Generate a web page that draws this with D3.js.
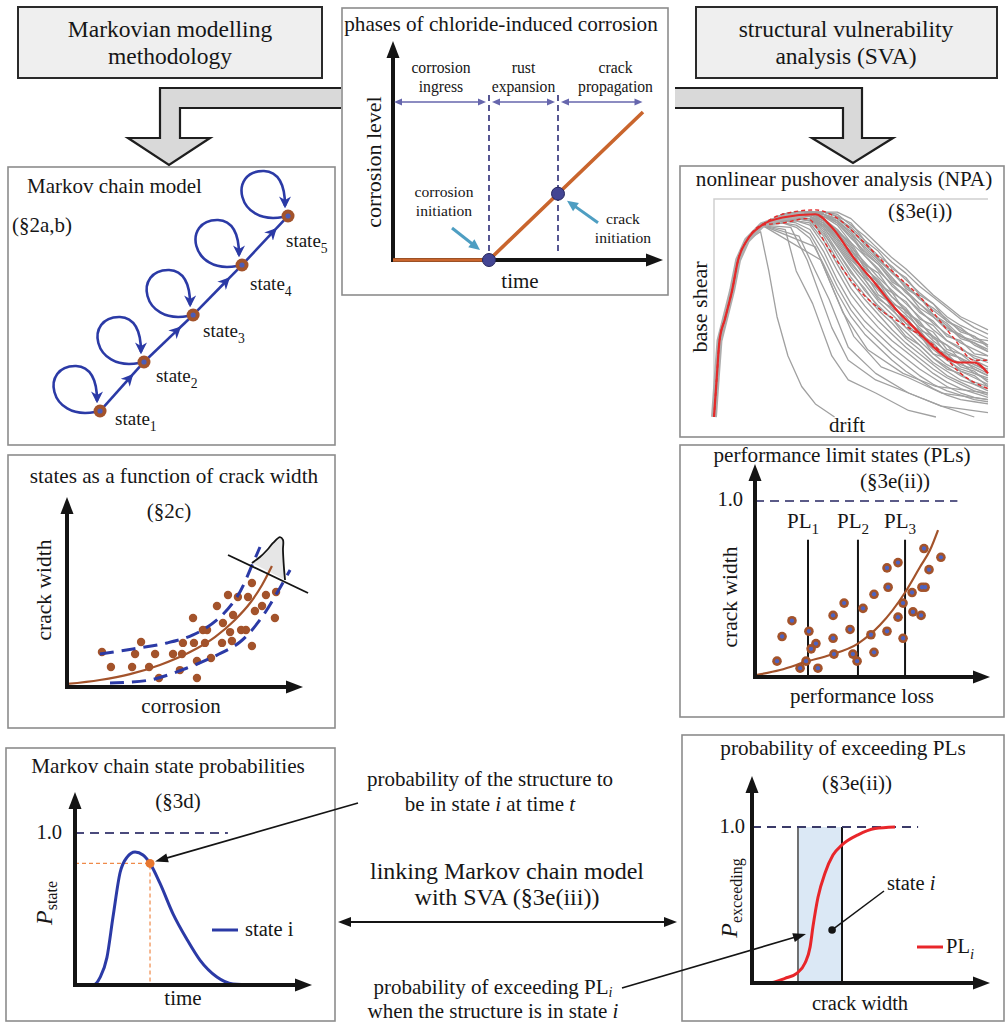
<!DOCTYPE html>
<html><head><meta charset="utf-8">
<script src="https://cdn.jsdelivr.net/npm/d3@7"></script>
<style>
body{margin:0;background:#fff}
svg{display:block}
</style>
</head><body>
<svg id="fig" width="1006" height="1023"></svg>
<script>
// ---------- data ----------
// Markov chain: five states on a rising diagonal (plot units 0-100)
const chainStates = ["1", "2", "3", "4", "5"];
const chainX = [15.4, 32.3, 51.2, 70, 87.7];
const chainY = [7.6, 27.2, 46, 66, 85.6];

// phases of chloride-induced corrosion (time / corrosion level, 0-100)
const phaseLabels = [["corrosion", "ingress"], ["rust", "expansion"], ["crack", "propagation"]];
const phaseBounds = [0, 38.4, 66, 101];
const corrTime = [0, 38.4, 100];
const corrLevel = [0, 0, 100];
const corrInitTime = 38.4;
const crackInitTime = 66;

// crack width vs corrosion
const crackDotX = [15.2, 19.1, 29.6, 28.3, 32.2, 35.7, 38.3, 40.0, 46.1, 49.1, 50.4, 50.0, 54.8, 55.2, 56.5, 56.5, 59.1, 60.0, 60.9, 62.6, 65.2, 67.4, 67.8, 70.0, 70.9, 71.7, 72.2, 74.3, 75.7, 77.8, 78.7, 80.4, 80.4, 81.7, 84.8, 86.5, 90.4, 90.9];
const crackDotY = [18.4, 10.5, 17.4, 10.5, 23.7, 10.5, 17.4, 4.7, 17.4, 8.9, 23.2, 17.4, 36.3, 23.2, 13.7, 4.7, 30.0, 23.2, 30.0, 15.3, 42.6, 23.2, 33.7, 48.4, 28.9, 24.2, 37.9, 47.4, 30.0, 30.0, 47.4, 21.6, 54.7, 40.0, 42.6, 48.4, 36.3, 50.0];
const crackTrendX = [0, 14.3, 27.4, 40.4, 53.5, 64.3, 73, 79.6, 84.8, 89.1];
const crackTrendY = [1.6, 3.7, 6.8, 11.6, 18.4, 26.3, 35.3, 44.2, 53.7, 63.7];
const crackUpperX = [14.3, 28.7, 43.5, 54.8, 65.2, 73.9, 80.9, 83.9];
const crackUpperY = [17.4, 20, 23.2, 27.4, 35.3, 47.4, 65.3, 73.7];
const crackLowerX = [18.7, 36.1, 52.2, 65.2, 75.2, 83.9, 91.3, 97];
const crackLowerY = [2.1, 3.7, 10, 16.8, 23.7, 35.3, 49.5, 61.6];
const bellX = [80.4, 83.9, 87, 89.6, 92.6, 93.9, 93.9, 94.3, 94.8];
const bellY = [65.3, 68.4, 72.1, 75.8, 78.9, 77.4, 72.1, 63.2, 56.3];
const sectionX = [70, 104.8];
const sectionY = [69.5, 49.5];

// nonlinear pushover analysis: drift / base shear (normalised)
const npaRiseDrift = [0, 0.01, 0.02, 0.04, 0.066, 0.088, 0.12, 0.175];
const npaRiseShear = [0, 0.18, 0.35, 0.45, 0.58, 0.72, 0.81, 0.88];
const npaGridDrift = [0.25, 0.30, 0.35, 0.40, 0.45, 0.50, 0.55, 0.60, 0.65, 0.70, 0.75, 0.80, 0.85, 0.90, 0.95, 1.00];
const npaSamples = [
  [93, 94, 94, 94, 94, 91, 85, 79, 73, 68, 62, 56, 51, 46, 43, 40],
  [93, 94, 94, 94, 93, 88, 83, 77, 71, 66, 60, 55, 50, 45, 41, 38],
  [93, 94, 94, 94, 92, 86, 80, 74, 69, 63, 57, 52, 46, 42, 39, 36],
  [92, 93, 94, 93, 90, 84, 78, 72, 66, 60, 55, 49, 44, 40, 37, 33],
  [92, 93, 94, 93, 89, 82, 76, 70, 63, 58, 52, 46, 41, 37, 34, 31],
  [92, 93, 93, 92, 88, 80, 74, 67, 61, 55, 49, 43, 38, 34, 31, 28],
  [92, 93, 93, 91, 86, 78, 71, 64, 58, 52, 46, 40, 35, 31, 28, 26],
  [91, 93, 93, 91, 85, 77, 69, 62, 55, 49, 43, 37, 33, 29, 26, 23],
  [91, 92, 93, 90, 84, 75, 67, 60, 53, 47, 41, 35, 30, 27, 24, 21],
  [91, 92, 92, 89, 82, 73, 65, 58, 51, 45, 39, 33, 28, 24, 22, 19],
  [91, 92, 92, 88, 80, 71, 63, 55, 49, 43, 37, 31, 26, 22, 20, 17],
  [91, 92, 92, 87, 78, 69, 61, 53, 47, 41, 35, 29, 24, 21, 18, 15],
  [91, 91, 91, 86, 76, 67, 58, 51, 45, 39, 33, 27, 23, 19, 16, 14],
  [90, 91, 91, 85, 74, 64, 56, 49, 43, 36, 31, 25, 21, 17, 15, 12],
  [90, 91, 90, 83, 72, 62, 54, 47, 40, 34, 29, 24, 19, 16, 13, 11],
  [90, 90, 89, 81, 70, 59, 51, 44, 38, 32, 27, 22, 18, 15, 12, 10],
  [90, 90, 88, 79, 67, 56, 48, 41, 35, 30, 25, 20, 16, 13, 11, 9],
  [90, 89, 86, 76, 63, 52, 44, 38, 32, 27, 22, 18, 14, 11, 9, 8],
  [89, 88, 84, 73, 60, 49, 41, 35, 29, 24, 19, 15, 12, 10, 8, 7],
  [89, 87, 82, 70, 57, 46, 38, 32, 26, 21, 17, 13, 10, 8, 7, 6],
  [93, 94, 94, 92, 90, 84, 75, 70, 62, 58, 50, 46, 40, 38, 33, 30],
  [92, 93, 93, 90, 85, 80, 70, 66, 57, 53, 45, 42, 35, 32, 27, 25],
  [91, 92, 92, 89, 83, 76, 70, 61, 57, 48, 44, 36, 33, 26, 23, 20],
  [91, 92, 91, 88, 82, 74, 64, 59, 50, 46, 38, 34, 27, 25, 20, 18],
  [90, 91, 91, 87, 79, 70, 63, 54, 50, 41, 38, 29, 27, 21, 19, 14],
  [92, 93, 94, 94, 92, 89, 81, 76, 68, 64, 56, 52, 44, 41, 36, 35],
  [90, 91, 90, 84, 76, 66, 59, 50, 45, 37, 33, 27, 22, 20, 15, 13],
  [93, 94, 94, 93, 91, 86, 79, 73, 66, 61, 54, 50, 45, 39, 37, 32],
  [92, 93, 93, 92, 89, 83, 74, 68, 60, 55, 48, 44, 37, 35, 29, 28],
  [91, 92, 92, 90, 86, 79, 68, 63, 55, 50, 42, 39, 31, 29, 24, 22],
  [92, 93, 93, 93, 90, 85, 77, 71, 64, 57, 52, 47, 42, 36, 34, 30],
  [91, 92, 92, 89, 84, 77, 66, 62, 52, 49, 40, 37, 29, 27, 22, 19],
  [92, 93, 94, 93, 91, 87, 81, 72, 67, 59, 55, 47, 43, 37, 35, 33],
  [90, 91, 91, 88, 81, 72, 66, 56, 52, 43, 40, 32, 29, 23, 21, 16]
];
const npaEarly = [
  [[0.17, 0.85], [0.20, 0.67], [0.23, 0.46], [0.27, 0.28], [0.32, 0.14], [0.37, 0.06], [0.44, 0]],
  [[0.26, 0.86], [0.30, 0.67], [0.36, 0.52], [0.43, 0.28], [0.49, 0.17], [0.59, 0.11], [0.71, 0.03], [0.81, 0]],
  [[0.28, 0.87], [0.34, 0.72], [0.43, 0.41], [0.49, 0.26], [0.59, 0.17], [0.71, 0.11], [0.83, 0.05], [1.0, 0.02]],
  [[0.37, 0.78], [0.44, 0.57], [0.51, 0.37], [0.61, 0.23], [0.71, 0.18], [0.83, 0.11], [1.0, 0.08]],
  [[0.39, 0.72], [0.47, 0.48], [0.56, 0.31], [0.69, 0.20], [0.81, 0.14], [1.0, 0.11]],
  [[0.31, 0.83], [0.37, 0.67], [0.42, 0.54], [0.49, 0.32], [0.59, 0.20], [0.71, 0.11], [0.83, 0.05], [0.95, 0]]
];
const npaMedian = [[0.25, 0.915], [0.37, 0.93], [0.43, 0.87], [0.51, 0.73], [0.59, 0.61], [0.66, 0.50], [0.73, 0.41], [0.83, 0.29], [0.89, 0.25], [0.95, 0.25], [1.0, 0.20]];
const npaUpper = [[0.25, 0.93], [0.37, 0.95], [0.44, 0.92], [0.54, 0.81], [0.65, 0.67], [0.76, 0.54], [0.87, 0.37], [0.95, 0.26], [1.0, 0.26]];
const npaLower = [[0.25, 0.89], [0.34, 0.91], [0.42, 0.77], [0.51, 0.61], [0.61, 0.49], [0.71, 0.41], [0.81, 0.32], [0.90, 0.20], [1.0, 0.13]];

// performance limit states: performance loss / crack width
const plNames = ["1", "2", "3"];
const plLoss = [24.1, 46.8, 68.2];
const plTop = 0.78;
const plDotX = [10.0, 12.3, 16.8, 20.5, 23.2, 24.5, 25.5, 27.7, 28.6, 35.5, 35.5, 35.9, 40.5, 43.2, 44.5, 46.4, 49.1, 52.7, 54.1, 54.1, 60.0, 60.5, 60.0, 65.0, 65.0, 67.3, 67.3, 71.4, 71.8, 75.5, 75.9, 77.3, 76.8, 79.1, 84.5];
const plDotY = [0.09, 0.23, 0.32, 0.05, 0.09, 0.26, 0.16, 0.19, 0.05, 0.35, 0.22, 0.13, 0.42, 0.27, 0.13, 0.09, 0.39, 0.24, 0.47, 0.14, 0.62, 0.51, 0.26, 0.65, 0.34, 0.42, 0.22, 0.48, 0.37, 0.35, 0.51, 0.51, 0.73, 0.61, 0.68];
const plTrendX = [0, 11.4, 24.1, 34.1, 46.8, 56.8, 68.2, 75, 79.5, 83.2];
const plTrendY = [0.01, 0.04, 0.09, 0.125, 0.19, 0.295, 0.48, 0.625, 0.72, 0.835];
const plOneEnd = 92;

// Markov chain state probability over time
const probTime = [0, 8.2, 11.4, 14.5, 17.3, 20.5, 23.6, 27.3, 30.9, 34.1, 38.6, 44.5, 50.9, 56.8, 64.5, 71.8, 80.9];
const probState = [0, 0, 0.05, 0.18, 0.45, 0.74, 0.84, 0.875, 0.855, 0.80, 0.67, 0.47, 0.30, 0.164, 0.053, 0.007, 0];
const probMarkIndex = 9;
const probOneEnd = 69.5;

// probability of exceeding PL_i vs crack width
const exceedWidth = [0, 7.3, 15, 20.5, 24.1, 26.4, 27.7, 30, 33.2, 36.8, 40.9, 48.2, 55.9, 65];
const exceedProb = [0, 0, 0.03, 0.064, 0.128, 0.23, 0.36, 0.55, 0.705, 0.82, 0.885, 0.95, 0.99, 1.0];
const stateBand = [20.9, 40.9];
const stateMark = [36.4, 0.34];
const exceedOneEnd = 75.5;

// ---------- helpers ----------
const FONT = "Liberation Serif";
const svg = d3.select("#fig");
const defs = svg.append("defs");
const chainBlue = "#2b3aa6";
const brown = "#a3532b";
const ink = "#141414";

function makeMarker(id, color, size, notch) {
  defs.append("marker").attr("id", id)
    .attr("viewBox", "0 0 10 10").attr("refX", 8).attr("refY", 5)
    .attr("markerWidth", size).attr("markerHeight", size)
    .attr("markerUnits", "userSpaceOnUse").attr("orient", "auto")
    .append("path").attr("d", notch ? "M0,0 L10,5 L0,10 L3,5 Z" : "M0,0 L10,5 L0,10 Z").attr("fill", color);
}
makeMarker("chainHead", chainBlue, 12, true);

function head(g, x, y, ang, len, wid, color) {
  const c = Math.cos(ang), s = Math.sin(ang);
  const bx = x - len * c, by = y - len * s;
  g.append("path")
    .attr("d", `M${x},${y} L${bx + wid / 2 * s},${by - wid / 2 * c} L${bx - wid / 2 * s},${by + wid / 2 * c} Z`)
    .attr("fill", color);
}
function arrow(g, x1, y1, x2, y2, color, w, len, wid, both) {
  const ang = Math.atan2(y2 - y1, x2 - x1);
  const c = Math.cos(ang), s = Math.sin(ang);
  const k = len * 0.7;
  g.append("line")
    .attr("x1", both ? x1 + k * c : x1).attr("y1", both ? y1 + k * s : y1)
    .attr("x2", x2 - k * c).attr("y2", y2 - k * s)
    .attr("stroke", color).attr("stroke-width", w);
  head(g, x2, y2, ang, len, wid, color);
  if (both) head(g, x1, y1, ang + Math.PI, len, wid, color);
}
function axes(g, ox, oy, xTip, yTip) {
  g.append("line").attr("x1", ox).attr("y1", oy + 2).attr("x2", ox).attr("y2", yTip + 12)
    .attr("stroke", ink).attr("stroke-width", 4);
  g.append("line").attr("x1", ox - 2).attr("y1", oy).attr("x2", xTip - 12).attr("y2", oy)
    .attr("stroke", ink).attr("stroke-width", 4);
  head(g, ox, yTip, -Math.PI / 2, 17, 13, ink);
  head(g, xTip, oy, 0, 17, 13, ink);
}
function box(x0, y0, x1, y1) {
  svg.append("rect").attr("x", x0).attr("y", y0).attr("width", x1 - x0).attr("height", y1 - y0)
    .attr("fill", "#fff").attr("stroke", "#8c8c8c").attr("stroke-width", 1.6);
}
function textEl(g, x, y, size, anchor) {
  return g.append("text").attr("x", x).attr("y", y).attr("font-family", FONT).attr("font-size", size)
    .attr("fill", "#161616").attr("text-anchor", anchor || "middle");
}
function txt(g, x, y, s, size, anchor) {
  return textEl(g, x, y, size, anchor).text(s);
}
function sub(g, x, y, base, subs, size, anchor, italicSub) {
  const t = textEl(g, x, y, size, anchor || "start");
  t.append("tspan").text(base);
  t.append("tspan").attr("font-size", size * 0.72).attr("dy", size * 0.3)
    .attr("font-style", italicSub ? "italic" : null).text(subs);
  return t;
}
function vlabel(g, x, y, s, size) {
  return textEl(g, 0, 0, size).attr("transform", `translate(${x},${y}) rotate(-90)`).text(s);
}
function dots(g, xs, ys, sx, sy, r, fill, inner) {
  const d = xs.map((v, i) => [v, ys[i]]);
  g.selectAll(null).data(d).join("circle")
    .attr("cx", p => sx(p[0])).attr("cy", p => sy(p[1])).attr("r", r).attr("fill", fill);
  if (inner) g.selectAll(null).data(d).join("circle")
    .attr("cx", p => sx(p[0])).attr("cy", p => sy(p[1])).attr("r", r * 0.45).attr("fill", inner);
}

// ---------- panels ----------
box(8, 167, 335, 445);     // Markov chain model
box(8, 455, 335, 728);     // crack width
box(6, 748, 335, 1021);    // state probabilities
box(342, 8, 668, 295);     // corrosion phases
box(680, 166, 1004, 437);  // pushover
box(680, 445, 1004, 717);  // limit states
box(682, 735, 1004, 1021); // exceedance

// header boxes
const hdr = svg.append("g");
[[18, 7, 322, 78, 170, ["Markovian modelling", "methodology"]],
 [696, 7, 997, 78, 846, ["structural vulnerability", "analysis (SVA)"]]].forEach(h => {
  hdr.append("rect").attr("x", h[0]).attr("y", h[1]).attr("width", h[2] - h[0]).attr("height", h[3] - h[1])
    .attr("fill", "#efefef").attr("stroke", "#2a2a2a").attr("stroke-width", 2);
  txt(hdr, h[4], 37, h[5][0], 23.5);
  txt(hdr, h[4], 64, h[5][1], 23.5);
});

// bent block arrows
const blk = svg.append("g").attr("fill", "#d9d9d9").attr("stroke", "#1e1e1e").attr("stroke-width", 2.2).attr("stroke-linejoin", "miter");
blk.append("path").attr("d", "M341,88 L160,88 L160,138 L128,138 L169,165 L210,138 L180,138 L180,108 L341,108");
blk.append("path").attr("d", "M675,88 L862,88 L862,138 L893,138 L853,163 L812,138 L843,138 L843,108 L675,108");

// ---------- Markov chain model ----------
{
  const g = svg.append("g");
  txt(g, 27, 193, "Markov chain model", 21, "start");
  txt(g, 12, 232, "(§2a,b)", 21, "start");
  const mx = d3.scaleLinear([0, 100], [60, 320]);
  const my = d3.scaleLinear([0, 100], [430, 180]);
  const nodes = chainStates.map((s, i) => ({ s, x: mx(chainX[i]), y: my(chainY[i]) }));
  const labelOffset = [[15, 14], [12, 20], [10, 22], [8, 25], [-2, 31]];
  // self loops
  nodes.forEach(n => {
    const { x, y } = n;
    g.append("path")
      .attr("d", `M${x - 5},${y + 1} C${x - 52},${y + 10} ${x - 60},${y - 46} ${x - 24},${y - 45} C${x - 8},${y - 44} ${x - 3},${y - 30} ${x - 3},${y - 10}`)
      .attr("fill", "none").attr("stroke", chainBlue).attr("stroke-width", 2.6).attr("marker-end", "url(#chainHead)");
  });
  // transitions
  d3.pairs(nodes).forEach(([a, b]) => {
    const dx = b.x - a.x, dy = b.y - a.y, L = Math.hypot(dx, dy);
    const ux = dx / L, uy = dy / L;
    const px = a.x + dx * 0.72, py = a.y + dy * 0.72;
    g.append("path").attr("d", `M${a.x + ux * 5},${a.y + uy * 5} L${px},${py}`)
      .attr("stroke", chainBlue).attr("stroke-width", 2.6).attr("marker-end", "url(#chainHead)");
    g.append("path").attr("d", `M${px - ux * 2},${py - uy * 2} L${b.x - ux * 5},${b.y - uy * 5}`)
      .attr("stroke", chainBlue).attr("stroke-width", 2.6);
  });
  g.selectAll(null).data(nodes).join("circle").attr("cx", d => d.x).attr("cy", d => d.y).attr("r", 6.5).attr("fill", brown);
  g.selectAll(null).data(nodes).join("circle").attr("cx", d => d.x).attr("cy", d => d.y).attr("r", 2.6).attr("fill", "#4b5cb8");
  nodes.forEach((n, i) => sub(g, n.x + labelOffset[i][0], n.y + labelOffset[i][1], "state", n.s, 19));
}

// ---------- phases of chloride-induced corrosion ----------
{
  const g = svg.append("g");
  txt(g, 501, 31, "phases of chloride-induced corrosion", 21.2);
  const tx = d3.scaleLinear([0, 100], [393, 643]);
  const ty = d3.scaleLinear([0, 100], [260, 112]);
  axes(g, 393, 260, 663, 41);
  vlabel(g, 381, 162, "corrosion level", 22);
  txt(g, 520, 288, "time", 21);
  // phase spans
  const purple = "#6666ad";
  d3.pairs(phaseBounds).forEach(([a, b], i) => {
    arrow(g, tx(a) + (i ? 3 : 1), 102, tx(b) - 3, 102, purple, 1.4, 8, 7, true);
    const cxm = i < 2 ? (tx(a) + tx(b)) / 2 : (tx(a) + 663) / 2 + 5;
    txt(g, cxm, 73, phaseLabels[i][0], 15.7);
    txt(g, cxm, 92, phaseLabels[i][1], 15.7);
  });
  [[corrInitTime, 260], [crackInitTime, 253]].forEach(([t, yb]) => {
    g.append("line").attr("x1", tx(t)).attr("x2", tx(t)).attr("y1", 95).attr("y2", yb)
      .attr("stroke", "#2d2d78").attr("stroke-width", 1.6).attr("stroke-dasharray", "6,4");
  });
  g.append("path").datum(corrTime.map((t, i) => [t, corrLevel[i]]))
    .attr("d", d3.line().x(d => tx(d[0])).y(d => ty(d[1])))
    .attr("fill", "none").attr("stroke", "#c9652d").attr("stroke-width", 3.6);
  const levelAt = d3.scaleLinear([corrTime[1], corrTime[2]], [corrLevel[1], corrLevel[2]]);
  const p1 = [tx(corrInitTime), ty(0)], p2 = [tx(crackInitTime), ty(levelAt(crackInitTime))];
  [p1, p2].forEach(p => g.append("circle").attr("cx", p[0]).attr("cy", p[1]).attr("r", 6.5)
    .attr("fill", "#434593").attr("stroke", "#26265e").attr("stroke-width", 1));
  const teal = "#4e9ec2";
  arrow(g, p1[0] - 37, p1[1] - 32, p1[0] - 9, p1[1] - 10, teal, 3, 11, 10);
  arrow(g, p2[0] + 40, p2[1] + 29, p2[0] + 9, p2[1] + 7, teal, 3, 11, 10);
  txt(g, 444, 197, "corrosion", 15.6);
  txt(g, 444, 216, "initiation", 15.6);
  txt(g, 623, 224, "crack", 15.6);
  txt(g, 623, 243, "initiation", 15.6);
}

// ---------- states as a function of crack width ----------
{
  const g = svg.append("g");
  txt(g, 174, 483, "states as a function of crack width", 21.2);
  txt(g, 169, 518, "(§2c)", 21);
  const cx = d3.scaleLinear([0, 100], [67, 297]);
  const cy = d3.scaleLinear([0, 100], [687, 497]);
  vlabel(g, 51, 590, "crack width", 21.5);
  txt(g, 181, 713, "corrosion", 21);
  const line = d3.line().x(d => cx(d[0])).y(d => cy(d[1])).curve(d3.curveMonotoneX);
  const bell = bellX.map((v, i) => [v, bellY[i]]);
  g.append("path").attr("d", d3.line().x(d => cx(d[0])).y(d => cy(d[1]))(bell) + "Z").attr("fill", "#e6e6e6");
  dots(g, crackDotX, crackDotY, cx, cy, 4.2, brown);
  [[crackUpperX, crackUpperY], [crackLowerX, crackLowerY]].forEach(([xs, ys]) => {
    g.append("path").attr("d", d3.line().x(d => cx(d[0])).y(d => cy(d[1])).curve(d3.curveCatmullRom)(xs.map((v, i) => [v, ys[i]])))
      .attr("fill", "none").attr("stroke", chainBlue).attr("stroke-width", 3).attr("stroke-dasharray", "14,8");
  });
  g.append("path").attr("d", line(crackTrendX.map((v, i) => [v, crackTrendY[i]])))
    .attr("fill", "none").attr("stroke", brown).attr("stroke-width", 2.2);
  g.append("path").attr("d", d3.line().x(d => cx(d[0])).y(d => cy(d[1])).curve(d3.curveCatmullRom)(bell))
    .attr("fill", "none").attr("stroke", ink).attr("stroke-width", 1.8);
  g.append("line").attr("x1", cx(sectionX[0])).attr("y1", cy(sectionY[0])).attr("x2", cx(sectionX[1])).attr("y2", cy(sectionY[1]))
    .attr("stroke", ink).attr("stroke-width", 1.8);
  axes(g, 67, 687, 303, 497);
}

// ---------- Markov chain state probabilities ----------
{
  const g = svg.append("g");
  txt(g, 168, 773, "Markov chain state probabilities", 21.2);
  txt(g, 178, 808, "(§3d)", 21);
  const px = d3.scaleLinear([0, 100], [75, 295]);
  const py = d3.scaleLinear([0, 1], [985, 833]);
  txt(g, 62, 839, "1.0", 20.5, "end");
  g.append("line").attr("x1", px(0)).attr("x2", px(probOneEnd)).attr("y1", py(1)).attr("y2", py(1))
    .attr("stroke", "#4a4a7c").attr("stroke-width", 1.8).attr("stroke-dasharray", "9,6");
  const mk = [probTime[probMarkIndex], probState[probMarkIndex]];
  g.append("path").attr("d", `M${px(0)},${py(mk[1])} H${px(mk[0])} V${py(0)}`)
    .attr("fill", "none").attr("stroke", "#ef8a4a").attr("stroke-width", 1.2).attr("stroke-dasharray", "4,3");
  g.append("path").attr("d", d3.line().x(d => px(d[0])).y(d => py(d[1])).curve(d3.curveMonotoneX)(probTime.map((t, i) => [t, probState[i]])))
    .attr("fill", "none").attr("stroke", chainBlue).attr("stroke-width", 3);
  axes(g, 75, 985, 312, 792);
  g.append("circle").attr("cx", px(mk[0])).attr("cy", py(mk[1])).attr("r", 4.5).attr("fill", "#e8772f");
  const pl = textEl(g, 0, 0, 24).attr("transform", "translate(52,903) rotate(-90)");
  pl.append("tspan").attr("font-style", "italic").text("P");
  pl.append("tspan").attr("font-size", 16).attr("dy", 5).text("state");
  g.append("line").attr("x1", 212).attr("x2", 238).attr("y1", 930).attr("y2", 930).attr("stroke", chainBlue).attr("stroke-width", 3);
  txt(g, 245, 936, "state i", 20.5, "start");
  txt(g, 183, 1005, "time", 21);
  arrow(svg, 358, 803, px(mk[0]) + 5, py(mk[1]) - 2, ink, 1.6, 13, 9);
}

// ---------- pushover analysis ----------
{
  const g = svg.append("g");
  txt(g, 844, 186, "nonlinear pushover analysis (NPA)", 21.2);
  const nx = d3.scaleLinear([0, 1], [714, 988]);
  const ny = d3.scaleLinear([0, 1], [417, 199]);
  g.append("path").attr("d", `M${nx(0)},${ny(0)} V${ny(1)} H${nx(1)}`).attr("fill", "none").attr("stroke", "#cfcfcf").attr("stroke-width", 1.5);
  const rise = npaRiseDrift.map((d, i) => [d, npaRiseShear[i]]);
  const ln = d3.line().x(d => nx(d[0])).y(d => ny(d[1]));
  const gray = g.append("g").attr("fill", "none").attr("stroke", "#a0a0a0").attr("stroke-width", 1.3).attr("stroke-linejoin", "round");
  npaSamples.forEach(s => gray.append("path").attr("d", ln(rise.concat(npaGridDrift.map((d, i) => [d, s[i] / 100])))));
  npaEarly.forEach(e => gray.append("path").attr("d", ln(rise.filter(p => p[0] < e[0][0] - 0.02).concat(e))));
  gray.append("path").attr("d", ln(rise.concat([[0.25, 0.915], [0.33, 0.93]]))).attr("stroke-width", 6).attr("stroke", "#adadad");
  const smooth = d3.line().x(d => nx(d[0])).y(d => ny(d[1])).curve(d3.curveMonotoneX);
  const red = "#e42a2a";
  g.append("path").attr("d", smooth(rise.concat(npaUpper))).attr("fill", "none").attr("stroke", red).attr("stroke-width", 1.4).attr("stroke-dasharray", "4,3");
  g.append("path").attr("d", smooth(rise.concat(npaLower))).attr("fill", "none").attr("stroke", red).attr("stroke-width", 1.4).attr("stroke-dasharray", "4,3");
  g.append("path").attr("d", smooth(rise.concat(npaMedian))).attr("fill", "none").attr("stroke", red).attr("stroke-width", 2.2);
  txt(g, 888, 218, "(§3e(i))", 21, "start");
  vlabel(g, 707, 307, "base shear", 22);
  txt(g, 847, 432, "drift", 21);
}

// ---------- performance limit states ----------
{
  const g = svg.append("g");
  txt(g, 842, 462, "performance limit states (PLs)", 21.2);
  txt(g, 895, 488, "(§3e(ii))", 21);
  const lx = d3.scaleLinear([0, 100], [755, 975]);
  const ly = d3.scaleLinear([0, 1], [677, 501]);
  txt(g, 743, 506, "1.0", 20.5, "end");
  g.append("line").attr("x1", lx(0)).attr("x2", lx(plOneEnd)).attr("y1", ly(1)).attr("y2", ly(1))
    .attr("stroke", "#5b5b88").attr("stroke-width", 1.8).attr("stroke-dasharray", "9,6");
  plLoss.forEach((v, i) => {
    g.append("line").attr("x1", lx(v)).attr("x2", lx(v)).attr("y1", ly(plTop)).attr("y2", ly(0)).attr("stroke", ink).attr("stroke-width", 2);
    sub(g, lx(v) - 21, 528, "PL", plNames[i], 21);
  });
  g.append("path").attr("d", d3.line().x(d => lx(d[0])).y(d => ly(d[1])).curve(d3.curveMonotoneX)(plTrendX.map((v, i) => [v, plTrendY[i]])))
    .attr("fill", "none").attr("stroke", brown).attr("stroke-width", 2.2);
  dots(g, plDotX, plDotY, lx, ly, 4.8, brown, "#4c63c2");
  axes(g, 755, 677, 990, 464);
  vlabel(g, 737, 597, "crack width", 21.5);
  txt(g, 862, 703, "performance loss", 21);
}

// ---------- probability of exceeding PLs ----------
{
  const g = svg.append("g");
  txt(g, 843, 755, "probability of exceeding PLs", 21.2);
  txt(g, 857, 790, "(§3e(ii))", 21);
  const ex = d3.scaleLinear([0, 100], [752, 972]);
  const ey = d3.scaleLinear([0, 1], [983, 827]);
  g.append("rect").attr("x", ex(stateBand[0])).attr("y", ey(1)).attr("width", ex(stateBand[1]) - ex(stateBand[0])).attr("height", ey(0) - ey(1))
    .attr("fill", "#dbe8f5");
  g.append("line").attr("x1", ex(stateBand[0])).attr("x2", ex(stateBand[0])).attr("y1", ey(1)).attr("y2", ey(0)).attr("stroke", "#505050").attr("stroke-width", 1.6);
  g.append("line").attr("x1", ex(stateBand[1])).attr("x2", ex(stateBand[1])).attr("y1", ey(1)).attr("y2", ey(0)).attr("stroke", ink).attr("stroke-width", 2);
  txt(g, 745, 833, "1.0", 20.5, "end");
  g.append("line").attr("x1", ex(0)).attr("x2", ex(exceedOneEnd)).attr("y1", ey(1)).attr("y2", ey(1))
    .attr("stroke", "#3a3a68").attr("stroke-width", 1.8).attr("stroke-dasharray", "9,6");
  g.append("path").attr("d", d3.line().x(d => ex(d[0])).y(d => ey(d[1])).curve(d3.curveMonotoneX)(exceedWidth.map((v, i) => [v, exceedProb[i]])))
    .attr("fill", "none").attr("stroke", "#e8262a").attr("stroke-width", 3);
  axes(g, 752, 983, 990, 776);
  const sm = [ex(stateMark[0]), ey(stateMark[1])];
  g.append("line").attr("x1", sm[0]).attr("y1", sm[1]).attr("x2", 884).attr("y2", 891).attr("stroke", ink).attr("stroke-width", 1.5);
  g.append("circle").attr("cx", sm[0]).attr("cy", sm[1]).attr("r", 3.8).attr("fill", ink);
  const st = textEl(g, 887, 890, 20.5, "start");
  st.append("tspan").text("state ");
  st.append("tspan").attr("font-style", "italic").text("i");
  g.append("line").attr("x1", 917).attr("x2", 943).attr("y1", 947).attr("y2", 947).attr("stroke", "#e8262a").attr("stroke-width", 3);
  sub(g, 946, 953, "PL", "i", 20.5, "start", true);
  const pe = textEl(g, 0, 0, 24).attr("transform", "translate(737,898) rotate(-90)");
  pe.append("tspan").attr("font-style", "italic").text("P");
  pe.append("tspan").attr("font-size", 16).attr("dy", 5).text("exceeding");
  txt(g, 860, 1010, "crack width", 20.5);
}

// ---------- linking annotations ----------
{
  const g = svg.append("g");
  txt(g, 490, 786, "probability of the structure to", 21);
  const t2 = textEl(g, 490, 811, 21);
  t2.append("tspan").text("be in state ");
  t2.append("tspan").attr("font-style", "italic").text("i");
  t2.append("tspan").text(" at time ");
  t2.append("tspan").attr("font-style", "italic").text("t");
  txt(g, 507, 879, "linking Markov chain model", 24);
  txt(g, 507, 905, "with SVA (§3e(iii))", 24);
  arrow(g, 338, 922, 677, 922, ink, 2, 13, 10, true);
  const t3 = textEl(g, 493, 994, 21);
  t3.append("tspan").text("probability of exceeding PL");
  t3.append("tspan").attr("font-size", 14).attr("dy", 3).attr("font-style", "italic").text("i");
  const t4 = textEl(g, 493, 1018, 21);
  t4.append("tspan").text("when the structure is in state ");
  t4.append("tspan").attr("font-style", "italic").text("i");
  arrow(g, 622, 988, 806, 934, ink, 1.6, 13, 9);
}
</script>
</body></html>
